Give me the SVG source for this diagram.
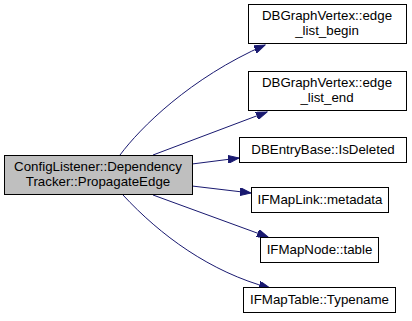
<svg xmlns="http://www.w3.org/2000/svg" width="412" height="321" viewBox="0 0 412 321">
  <style>
    .node rect { fill: #ffffff; stroke: #000000; stroke-width: 1; }
    .node.main rect { fill: #bfbfbf; }
    .node text { font-family: "Liberation Sans", Arial, sans-serif; font-size: 13.3px; fill: #000000; text-anchor: middle; }
    .edge { fill: none; stroke: #191970; stroke-width: 1; marker-end: url(#arrow); }
  </style>
  <defs>
    <marker id="arrow" markerUnits="userSpaceOnUse" markerWidth="12" markerHeight="8" refX="11" refY="4" orient="auto">
      <path d="M0,0 L11,4 L0,8 z" fill="#191970" stroke="#191970" stroke-width="1"/>
    </marker>
  </defs>

  <g id="edges">
    <path class="edge" d="M120,155 C140,128 190,78 265,45"/>
    <path class="edge" d="M153,155 L267,112"/>
    <path class="edge" d="M192,164 L239,158"/>
    <path class="edge" d="M192,186 L251,193"/>
    <path class="edge" d="M153,195 L268,237"/>
    <path class="edge" d="M123,195 C160,235 210,272 270,288"/>
  </g>

  <g id="node-propagate-edge" class="node main">
    <rect x="4.5" y="155.5" width="188" height="39"/>
    <text x="98" y="171">ConfigListener::Dependency</text>
    <text x="98" y="186">Tracker::PropagateEdge</text>
  </g>

  <g id="node-edge-list-begin" class="node">
    <rect x="248.5" y="4.5" width="158" height="39"/>
    <text x="327" y="20">DBGraphVertex::edge</text>
    <text x="327" y="35">_list_begin</text>
  </g>

  <g id="node-edge-list-end" class="node">
    <rect x="248.5" y="71.5" width="158" height="39"/>
    <text x="327" y="87">DBGraphVertex::edge</text>
    <text x="327" y="102">_list_end</text>
  </g>

  <g id="node-is-deleted" class="node">
    <rect x="239.5" y="137.5" width="167" height="25"/>
    <text x="323" y="154">DBEntryBase::IsDeleted</text>
  </g>

  <g id="node-metadata" class="node">
    <rect x="251.5" y="187.5" width="137" height="25"/>
    <text x="320" y="204">IFMapLink::metadata</text>
  </g>

  <g id="node-table" class="node">
    <rect x="260.5" y="237.5" width="118" height="25"/>
    <text x="319.5" y="254">IFMapNode::table</text>
  </g>

  <g id="node-typename" class="node">
    <rect x="243.5" y="287.5" width="152" height="25"/>
    <text x="319.5" y="304">IFMapTable::Typename</text>
  </g>
</svg>
